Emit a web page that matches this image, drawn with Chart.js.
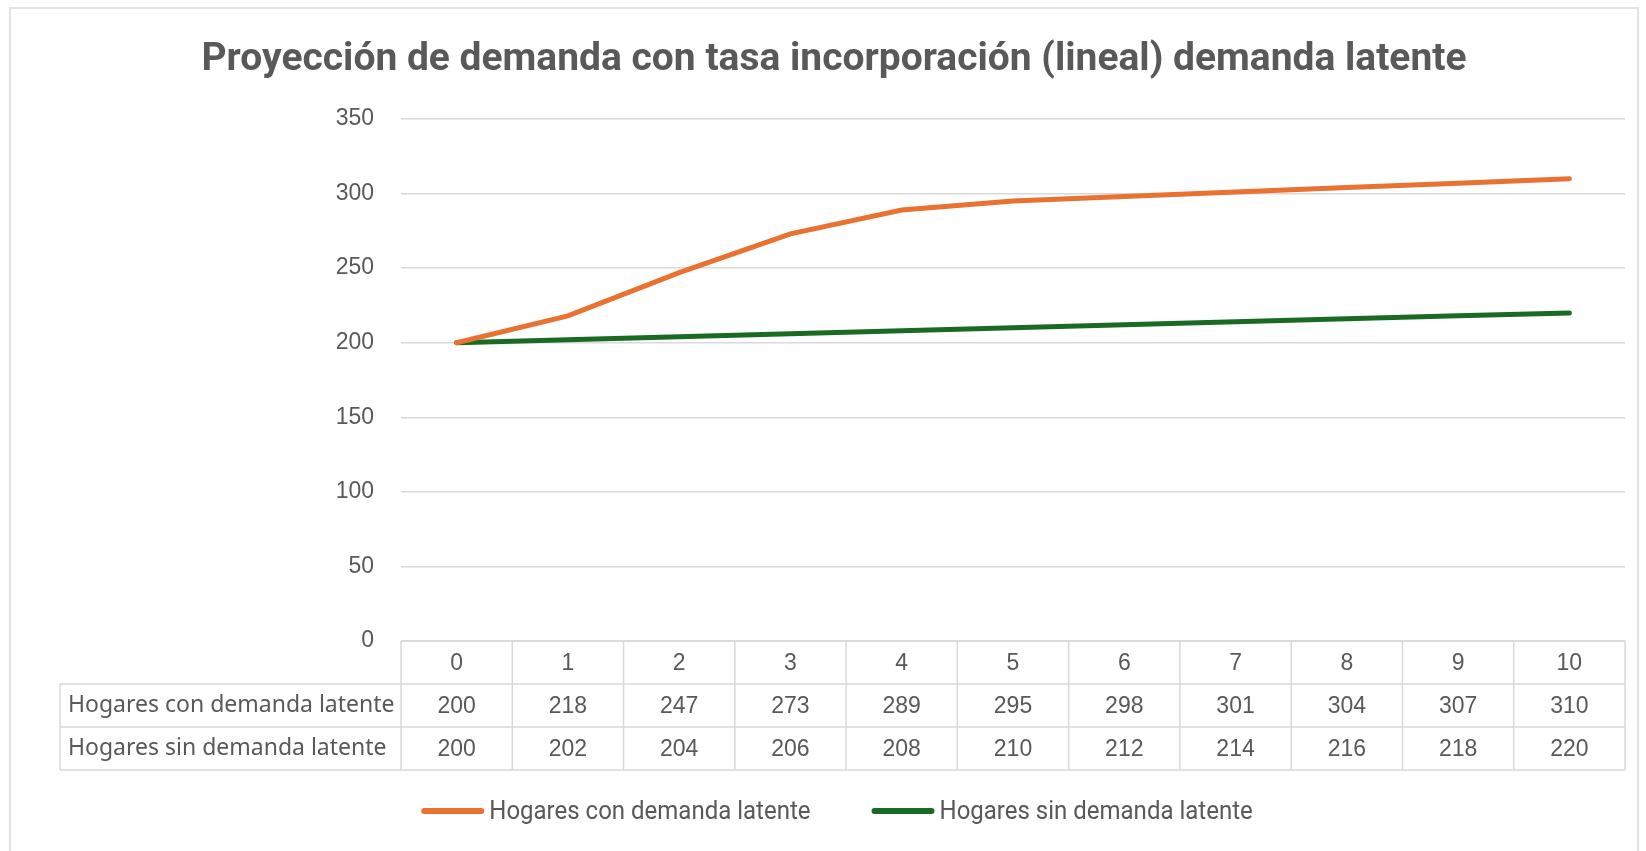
<!DOCTYPE html>
<html>
<head>
<meta charset="utf-8">
<script src="https://cdn.jsdelivr.net/npm/chart.js@4/dist/chart.umd.min.js"></script>
<style>
  html, body { margin: 0; padding: 0; background: #fff; }
  #wrap { position: relative; width: 1646px; height: 851px; overflow: hidden; }
  #frame { position: absolute; left: 9px; top: 7px; width: 1630px; height: 870px; border: 2px solid #e3e3e3; box-sizing: border-box; }
  #cv { position: absolute; left: 0; top: 0; }
</style>
</head>
<body>
<div id="wrap">
  <div id="frame"></div>
  <canvas id="cv" width="1646" height="851"></canvas>
</div>
<script>
// data
const chartTitle = 'Proyección de demanda con tasa incorporación (lineal) demanda latente';
const years = ['0', '1', '2', '3', '4', '5', '6', '7', '8', '9', '10'];
const conLatente = [200, 218, 247, 273, 289, 295, 298, 301, 304, 307, 310];
const sinLatente = [200, 202, 204, 206, 208, 210, 212, 214, 216, 218, 220];
const seriesNames = ['Hogares con demanda latente', 'Hogares sin demanda latente'];
const yTicks = [0, 50, 100, 150, 200, 250, 300, 350];

const textColor = '#595959';
const gridColor = '#d9d9d9';
const orange = '#E97132';
const green = '#196B24';

/////Title (narrow bold like the original)
const titlePlugin = {
    id: 'narrowTitle',
    afterDraw(chart) {
        const ctx = chart.ctx;
        ctx.save();
        ctx.font = 'bold 38px Roboto';
        ctx.fillStyle = textColor;
        ctx.textBaseline = 'alphabetic';
        ctx.textAlign = 'center';
        const w = ctx.measureText(chartTitle).width;
        const sx = 1265 / w;
        ctx.translate(834, 70);
        ctx.scale(sx, 1);
        ctx.fillText(chartTitle, 0, 0);
        ctx.restore();
    }
};

/////Data table under the plot
const tablePlugin = {
    id: 'dataTable',
    afterDraw(chart) {
        const ctx = chart.ctx;
        const xs = chart.scales.x;
        const area = chart.chartArea;
        const colW = (xs.right - xs.left) / years.length;
        const rowH = 43;
        const top = area.bottom;
        const labelLeft = 60;
        const rows = [conLatente, sinLatente];

        ctx.save();
        ctx.strokeStyle = gridColor;
        ctx.lineWidth = 1.5;

        // horizontal lines
        ctx.beginPath();
        ctx.moveTo(xs.left, top); ctx.lineTo(xs.right, top);
        for (let r = 1; r <= 3; r++) {
            ctx.moveTo(labelLeft, top + r * rowH);
            ctx.lineTo(xs.right, top + r * rowH);
        }
        // vertical lines
        for (let i = 0; i <= years.length; i++) {
            const x = xs.left + i * colW;
            ctx.moveTo(x, top); ctx.lineTo(x, top + 3 * rowH);
        }
        ctx.moveTo(labelLeft, top + rowH); ctx.lineTo(labelLeft, top + 3 * rowH);
        ctx.stroke();

        ctx.fillStyle = textColor;
        ctx.textBaseline = 'middle';
        ctx.textAlign = 'center';
        ctx.font = '23px "Liberation Sans"';
        years.forEach((lab, i) => {
            const cx = xs.getPixelForValue(i);
            ctx.fillText(lab, cx, top + rowH / 2 + 1);
            rows.forEach((vals, r) => {
                ctx.fillText(String(vals[i]), cx, top + (r + 1.5) * rowH + 1);
            });
        });

        ctx.textAlign = 'left';
        ctx.font = '23px "Noto Sans"';
        seriesNames.forEach((name, r) => {
            ctx.fillText(name, labelLeft + 8, top + (r + 1.5) * rowH);
        });
        ctx.restore();
    }
};

/////Legend
const legendPlugin = {
    id: 'lineLegend',
    afterDraw(chart) {
        const ctx = chart.ctx;
        const y = 811;
        const sample = 63;
        const gap = 5;
        const spacing = 61;
        const sx = 0.96;
        ctx.save();
        ctx.font = '25px Roboto';
        const widths = chart.data.datasets.map(ds => sample + gap + ctx.measureText(ds.label).width * sx);
        const total = widths.reduce((a, b) => a + b, 0) + spacing * (widths.length - 1);
        let x = 837 - total / 2;
        chart.data.datasets.forEach((ds, i) => {
            ctx.strokeStyle = ds.borderColor;
            ctx.lineWidth = 6;
            ctx.lineCap = 'round';
            ctx.beginPath();
            ctx.moveTo(x + 3, y); ctx.lineTo(x + sample - 3, y);
            ctx.stroke();
            ctx.fillStyle = textColor;
            ctx.textBaseline = 'alphabetic';
            ctx.textAlign = 'left';
            ctx.save();
            ctx.translate(x + sample + gap, y + 8);
            ctx.scale(sx, 1);
            ctx.fillText(ds.label, 0, 0);
            ctx.restore();
            x += widths[i] + spacing;
        });
        ctx.restore();
    }
};

let ctx = document.getElementById('cv').getContext('2d');
new Chart(ctx, {
    type: 'line',
    data: {
        labels: years,
        datasets: [{
            label: seriesNames[0],
            data: conLatente,
            borderColor: orange,
            backgroundColor: orange,
            borderWidth: 5,
            borderCapStyle: 'round',
            pointRadius: 0,
            tension: 0
        },
        {
            label: seriesNames[1],
            data: sinLatente,
            borderColor: green,
            backgroundColor: green,
            borderWidth: 5,
            borderCapStyle: 'round',
            pointRadius: 0,
            tension: 0
        }]
    },
    options: {
        responsive: false,
        animation: false,
        devicePixelRatio: 1,
        layout: {
            padding: { left: 0, top: 119, right: 21, bottom: 210 }
        },
        plugins: {
            legend: { display: false },
            title: { display: false },
            tooltip: { enabled: false }
        },
        scales: {
            x: {
                type: 'category',
                offset: true,
                display: false
            },
            y: {
                min: 0,
                max: 350,
                afterBuildTicks: scale => { scale.ticks = yTicks.map(v => ({ value: v })); },
                afterFit: scale => { scale.width = 401; },
                border: { display: false },
                grid: { color: gridColor, lineWidth: 1.5, drawTicks: false },
                ticks: {
                    padding: 27,
                    color: textColor,
                    font: { family: '"Liberation Sans"', size: 23 }
                }
            }
        }
    },
    plugins: [titlePlugin, tablePlugin, legendPlugin]
});
</script>
</body>
</html>
